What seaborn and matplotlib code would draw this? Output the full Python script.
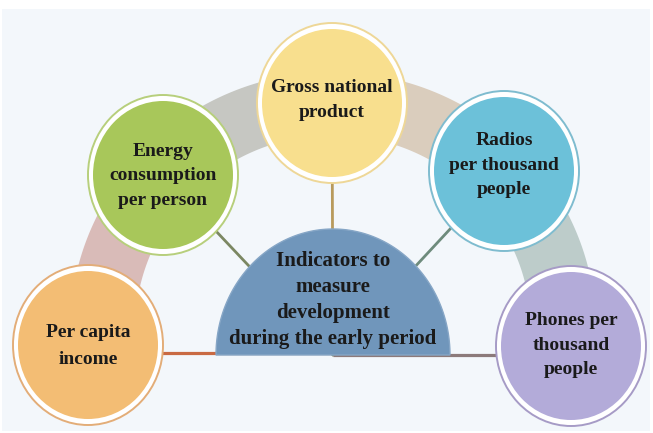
import numpy as np
import matplotlib
matplotlib.use("Agg")
import matplotlib.pyplot as plt
from matplotlib.patches import Ellipse, Polygon, Rectangle
import seaborn as sns

# ---- content ----
center_label = ["Indicators to", "measure", "development", "during the early period"]
indicator_labels = [
    ["Per capita", "income"],
    ["Energy", "consumption", "per person"],
    ["Gross national", "product"],
    ["Radios", "per thousand", "people"],
    ["Phones per", "thousand", "people"],
]

# ---- styles / layout ----
fill_colors = ["#f3bd74", "#a8c75a", "#f8df8e", "#6cc1d9", "#b3abd9"]
edge_colors = ["#e3ad78", "#b7cf7c", "#eed797", "#7fbccf", "#a69bc6"]
link_colors = ["#c96a43", "#7b8762", "#b89a5c", "#6e8b7c", "#8c7a7a"]
band_colors = ["#d9bbb8", "#c6c7c2", "#dacdbd", "#bdccca"]
centers = [(88, 345), (163, 175), (332, 103), (504, 171), (571, 346)]
text_offsets = [1, 1, -3, -6, -1]
text_spacing = [1.75, 1.6, 1.65, 1.55, 1.55]

sns.set_theme(style="white")
plt.rcParams["font.family"] = ["Liberation Serif", "DejaVu Serif"]

fig = plt.figure(figsize=(6.53, 4.33), dpi=100, facecolor="white")
ax = fig.add_axes([0, 0, 1, 1])
ax.set_xlim(0, 653)
ax.set_ylim(433, 0)
ax.axis("off")

# background panel
ax.add_patch(Rectangle((2, 9), 648, 422, facecolor="#f3f7fb", edgecolor="none", zorder=0))

# arch band behind circles
acx, acy = 333, 330
oa, ob = 263, 258
ia, ib = 198, 195
bounds = [170, 140, 90, 40, 10]
for k, col in enumerate(band_colors):
    t = np.radians(np.linspace(bounds[k], bounds[k + 1], 60))
    outer = np.column_stack([acx + oa * np.cos(t), acy - ob * np.sin(t)])
    inner = np.column_stack([acx + ia * np.cos(t[::-1]), acy - ib * np.sin(t[::-1])])
    ax.add_patch(Polygon(np.vstack([outer, inner]), closed=True, facecolor=col,
                         edgecolor="none", zorder=1))

# dome
dcx, dcy, da, db = 333, 355, 117, 126

# connectors
for i, (cx, cy) in enumerate(centers):
    if i in (0, 4):
        yl = 353 if i == 0 else 355
        ax.plot([cx, dcx], [yl, yl], color=link_colors[i], lw=2.3, zorder=2,
                solid_capstyle="butt")
    else:
        ax.plot([cx, dcx], [cy, dcy], color=link_colors[i], lw=2.0, zorder=2)

t = np.radians(np.linspace(0, 180, 120))
dome = np.column_stack([dcx + da * np.cos(t), dcy - db * np.sin(t)])
ax.add_patch(Polygon(dome, closed=True, facecolor="#7096bb", edgecolor="#86a6c6",
                     lw=1.0, zorder=3))
ax.text(dcx, 300, "\n".join(center_label), ha="center", va="center", fontsize=15,
        fontweight="bold", color="#1a1a1a", linespacing=1.42, zorder=6)

# indicator circles
for i, (cx, cy) in enumerate(centers):
    ax.add_patch(Ellipse((cx, cy), 150, 160, facecolor="white", edgecolor=edge_colors[i],
                         lw=1.4, zorder=4))
    ax.add_patch(Ellipse((cx, cy), 140, 148, facecolor=fill_colors[i], edgecolor="none",
                         zorder=5))
    ax.text(cx, cy + text_offsets[i], "\n".join(indicator_labels[i]), ha="center",
            va="center", fontsize=14, fontweight="bold", color="#1a1a1a",
            linespacing=text_spacing[i], zorder=6)

fig.savefig("out.png", dpi=100, facecolor="white")
